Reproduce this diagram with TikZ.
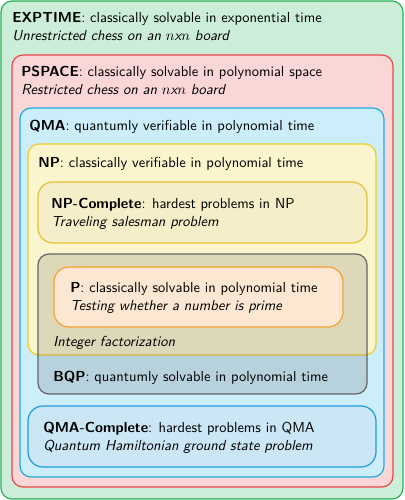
\documentclass[tikz,border=0pt]{standalone}
\usepackage{tikz}
\definecolor{gB}{RGB}{40,178,86}
\definecolor{gF}{RGB}{204,238,216}
\definecolor{rB}{RGB}{232,72,72}
\definecolor{rF}{RGB}{250,214,214}
\definecolor{bB}{RGB}{30,170,225}
\definecolor{bF}{RGB}{204,238,250}
\definecolor{yB}{RGB}{240,205,40}
\definecolor{yF}{RGB}{250,245,205}
\definecolor{nB}{RGB}{228,192,52}
\definecolor{nF}{RGB}{245,238,200}
\definecolor{pB}{RGB}{245,160,50}
\definecolor{pF}{RGB}{252,232,210}
\definecolor{qB}{RGB}{30,155,220}
\definecolor{qF}{RGB}{203,230,245}
\definecolor{kB}{RGB}{100,100,100}
\tikzset{
  cls/.style={line width=1.2pt, rounded corners=11pt},
  lbl/.style={anchor=base west, inner sep=0pt, font=\sffamily\fontsize{10}{12}\selectfont, scale=1.45, transform shape},
}
\begin{document}
\begin{tikzpicture}[x=1pt,y=-1pt]
\useasboundingbox (0,0) rectangle (404,500);
% boxes
\draw[cls, draw=gB, fill=gF] (1,1) rectangle (403,499);
\draw[cls, draw=rB, fill=rF] (12,55) rectangle (393,487);
\draw[cls, draw=bB, fill=bF] (20,108) rectangle (384,477);
\draw[cls, draw=yB, fill=yF] (28,144) rectangle (376,355);
\draw[cls, rounded corners=15pt, draw=nB, fill=nF] (38,182) rectangle (367,243);
\draw[cls, draw=kB, fill=kB, fill opacity=0.2] (38,254) rectangle (367,394);
\draw[cls, rounded corners=15pt, draw=pB, fill=pF] (54,267) rectangle (343,327);
\draw[cls, rounded corners=15pt, draw=qB, fill=qF] (28,406) rectangle (376,467);
% texts
\node[lbl] (exp1) at (12,23) {\textbf{EXPTIME}: classically solvable in exponential time};
\node[lbl] (exp2) at (12,41) {\itshape Unrestricted chess on an $n$x$n$ board};
\node[lbl] (ps1) at (21,77) {\textbf{PSPACE}: classically solvable in polynomial space};
\node[lbl] (ps2) at (21,95) {\itshape Restricted chess on an $n$x$n$ board};
\node[lbl] (qma) at (29,131) {\textbf{QMA}: quantumly verifiable in polynomial time};
\node[lbl] (np) at (38,167) {\textbf{NP}: classically verifiable in polynomial time};
\node[lbl] (npc1) at (51,208) {\textbf{NP-Complete}: hardest problems in NP};
\node[lbl] (npc2) at (51,226) {\itshape Traveling salesman problem};
\node[lbl] (p1) at (70,292) {\textbf{P}: classically solvable in polynomial time};
\node[lbl] (p2) at (70,310) {\itshape Testing whether a number is prime};
\node[lbl] (intf) at (53,346) {\itshape Integer factorization};
\node[lbl] (bqp) at (53,381) {\textbf{BQP}: quantumly solvable in polynomial time};
\node[lbl] (qc1) at (43,432) {\textbf{QMA-Complete}: hardest problems in QMA};
\node[lbl] (qc2) at (43,450) {\itshape Quantum Hamiltonian ground state problem};
\end{tikzpicture}
\end{document}
